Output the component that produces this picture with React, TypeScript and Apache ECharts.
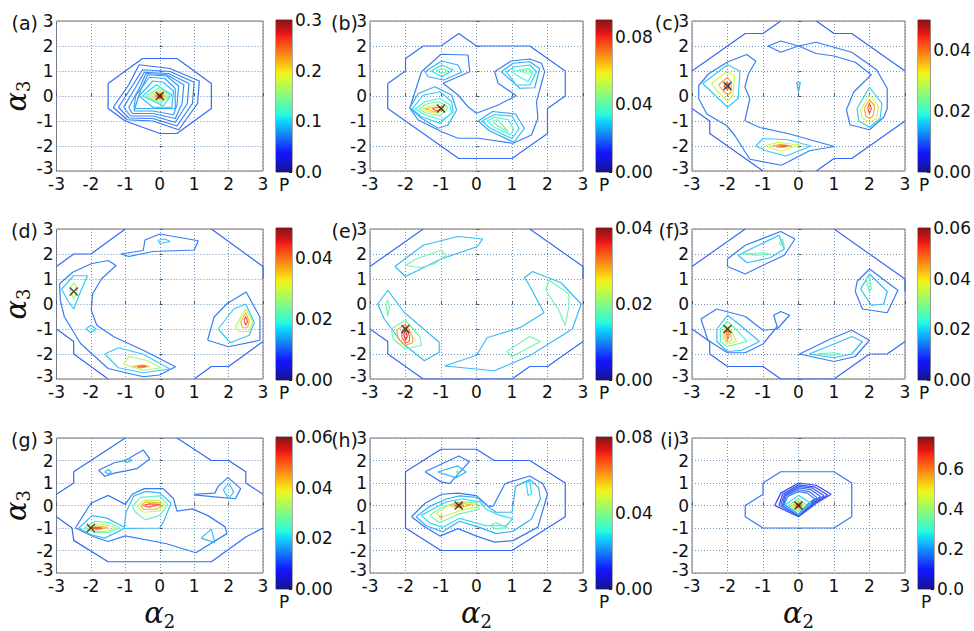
import React, { useEffect, useRef } from "react";
import * as echarts from "echarts";

// ---------------- data ----------------
const panelLabels = ["(a)", "(b)", "(c)", "(d)", "(e)", "(f)", "(g)", "(h)", "(i)"];
const cbMax = [0.3, 0.09, 0.05, 0.05, 0.04, 0.06, 0.06, 0.08, 0.76];
const cbStep = [0.1, 0.04, 0.02, 0.02, 0.02, 0.02, 0.02, 0.04, 0.2];
const cbDigits = [1, 2, 2, 2, 2, 2, 2, 2, 1];
const markX = [0, -1, -2, -2.5, -2, -2, -2, -0.5, 0];
const markY = [0, -0.5, 0.4, 0.5, -1, -1, -1, 0, 0];

// each entry: [contour level P, polyline points [alpha2, alpha3]]
const contoursA = [
  [0.058, [[-1.5, 0.5], [-0.5, 1.5], [0.5, 1.5], [1.5, 0.5], [1.5, -0.5], [0.5, -1.5], [0, -1.5], [-1, -1], [-1.5, -0.5], [-1.5, 0.5]]],
  [0.062, [[-1.35, -0.45], [-0.9, 0.45], [-0.6, 1.25], [0.3, 1.1], [1.15, 0.6], [1.1, -0.3], [0.55, -1.35], [-0.2, -1.0], [-0.95, -0.95], [-1.35, -0.45]]],
  [0.066, [[-1.2, -0.45], [-0.8, 0.4], [-0.5, 1.05], [0.3, 0.98], [1.0, 0.55], [0.95, -0.3], [0.5, -1.2], [-0.2, -0.9], [-0.9, -0.88], [-1.2, -0.45]]],
  [0.07, [[-1.05, -0.45], [-0.7, 0.35], [-0.45, 0.95], [0.25, 0.9], [0.85, 0.5], [0.8, -0.3], [0.45, -1.05], [-0.2, -0.8], [-0.85, -0.8], [-1.05, -0.45]]],
  [0.074, [[-0.9, -0.45], [-0.6, 0.3], [-0.4, 0.9], [0.2, 0.85], [0.7, 0.45], [0.65, -0.3], [0.45, -0.9], [-0.2, -0.7], [-0.8, -0.7], [-0.9, -0.45]]],
  [0.078, [[-0.75, -0.6], [-0.55, 0.25], [-0.35, 0.85], [0.2, 0.8], [0.55, 0.4], [0.5, -0.35], [0.4, -0.75], [-0.2, -0.6], [-0.75, -0.6]]],
  [0.082, [[-0.75, -0.5], [-0.7, 0], [-0.3, 0.75], [0.15, 0.7], [0.45, 0.3], [0.45, -0.5], [-0.75, -0.5]]],
  [0.09, [[-0.6, 0], [-0.2, 0.6], [0.1, 0.55], [0.4, 0.2], [0.35, -0.45], [-0.2, -0.45], [-0.6, 0]]],
  [0.1, [[-0.5, 0], [-0.1, 0.45], [0.35, 0.05], [0.1, -0.4], [-0.5, 0]]],
  [0.13, [[-0.4, 0], [0, 0.35], [0.3, 0], [0, -0.3], [-0.4, 0]]],
  [0.17, [[-0.3, 0], [0, 0.25], [0.22, 0], [0, -0.22], [-0.3, 0]]],
  [0.21, [[-0.2, 0], [0, 0.17], [0.15, 0], [0, -0.15], [-0.2, 0]]],
  [0.25, [[-0.12, 0], [0, 0.1], [0.1, 0], [0, -0.1], [-0.12, 0]]],
  [0.28, [[-0.06, 0], [0, 0.05], [0.05, 0], [0, -0.05], [-0.06, 0]]],
];

const contoursB = [
  [0.018, [[-2.5, 0.5], [-2.5, -0.5], [-1.5, -1.5], [-0.5, -2.5], [1, -2.5], [2, -1.5], [2, -0.5], [2.5, 0], [2.5, 1], [2, 1.5], [1.5, 2], [0, 2], [-0.5, 2.5], [-1, 2], [-1.5, 2], [-2, 1.5], [-2, 1], [-2.5, 0.5]]],
  [0.02, [[-1.88, -0.49], [-1.64, -0.96], [-0.98, -1.43], [-0.52, -1.69], [0.05, -1.69], [1.03, -1.89], [1.55, -1.56], [1.73, -0.89], [1.69, -0.23], [1.92, 0.97], [1.83, 1.31], [1.5, 1.48], [0.98, 1.4], [0.51, 0.97], [0.61, 0.51], [1.12, 0.01], [0.61, -0.36], [0, -0.69], [-0.24, -0.43], [-0.52, 0.04], [-0.94, 0.51], [-0.19, 0.97], [-0.24, 1.64], [-1.0, 1.67], [-1.55, 0.97], [-1.88, -0.49]]],
  [0.026, [[-1.45, 0.97], [-0.98, 1.4], [-0.52, 1.24], [-0.42, 0.95], [-0.93, 0.64], [-1.36, 0.77], [-1.45, 0.97]]],
  [0.03, [[-1.27, 1], [-0.98, 1.24], [-0.66, 1.04], [-0.98, 0.77], [-1.27, 1]]],
  [0.04, [[-1.13, 1], [-0.98, 1.1], [-0.8, 1], [-0.98, 0.9], [-1.13, 1]]],
  [0.025, [[-1.88, -0.47], [-1.64, 0.1], [-1.17, 0.37], [-0.7, 0.04], [-0.56, -0.56], [-0.8, -1.16], [-1.08, -1.29], [-1.55, -0.89], [-1.88, -0.47]]],
  [0.029, [[-1.81, -0.52], [-1.5, 0.03], [-1.03, 0.17], [-0.7, -0.23], [-0.66, -0.63], [-1.03, -1.09], [-1.55, -0.83], [-1.81, -0.52]]],
  [0.034, [[-1.73, -0.52], [-1.45, -0.23], [-1.03, -0.1], [-0.75, -0.36], [-0.7, -0.69], [-0.98, -0.96], [-1.45, -0.76], [-1.73, -0.52]]],
  [0.042, [[-1.64, -0.52], [-1.36, -0.29], [-1.03, -0.23], [-0.8, -0.47], [-1.03, -0.79], [-1.4, -0.69], [-1.64, -0.52]]],
  [0.055, [[-1.55, -0.52], [-1.17, -0.36], [-0.89, -0.47], [-1.08, -0.69], [-1.36, -0.63], [-1.55, -0.52]]],
  [0.065, [[-1.45, -0.52], [-1.08, -0.43], [-0.94, -0.52], [-1.17, -0.63], [-1.45, -0.52]]],
  [0.075, [[-1.25, -0.5], [-1.0, -0.45], [-0.95, -0.55], [-1.15, -0.58], [-1.25, -0.5]]],
  [0.025, [[0.05, -1.0], [0.45, -0.62], [1.1, -0.72], [1.35, -1.3], [1.05, -1.85], [0.35, -1.38], [0.05, -1.0]]],
  [0.029, [[0.15, -1.0], [0.5, -0.75], [1.0, -0.8], [1.2, -1.3], [1.0, -1.7], [0.4, -1.3], [0.15, -1.0]]],
  [0.034, [[0.3, -1.0], [0.5, -0.85], [0.9, -0.95], [1.05, -1.35], [0.95, -1.55], [0.5, -1.25], [0.3, -1.0]]],
  [0.042, [[0.45, -1.0], [0.6, -0.95], [0.9, -1.45], [0.55, -1.15], [0.45, -1.0]]],
  [0.025, [[0.7, 0.97], [1.03, 1.31], [1.5, 1.37], [1.78, 1.1], [1.64, 0.33], [1.22, 0.31], [0.7, 0.97]]],
  [0.029, [[0.84, 0.97], [1.08, 1.17], [1.5, 1.24], [1.69, 0.97], [1.5, 0.44], [1.12, 0.44], [0.84, 0.97]]],
  [0.034, [[0.98, 0.97], [1.45, 1.1], [1.59, 0.97], [1.45, 0.57], [0.98, 0.97]]],
  [0.042, [[1.2, 1.0], [1.5, 1.05], [1.55, 0.95], [1.45, 0.9], [1.2, 1.0]]],
];

const contoursC = [
  [0.0095, [[-3, 1], [-2, 2], [-1.5, 2.5], [-1, 2.5], [-0.5, 3]]],
  [0.0095, [[0.5, 3], [1, 2.5], [1.5, 2.5], [3, 1]]],
  [0.0095, [[3, -1], [2, -2], [1.5, -2.5], [1, -2.5], [0.5, -3]]],
  [0.0095, [[-3, -0.5], [-2.5, -1], [-2.5, -1.5], [-1, -3]]],
  [0.011, [[-2.81, 0.42], [-2.53, 0.89], [-2.0, 1.36], [-1.46, 1.66], [-1.2, 1.39], [-1.41, 0.89], [-1.51, 0.36], [-1.37, -0.11], [-1.51, -0.99], [-1.09, -1.26], [-0.25, -1.52], [1.01, -2.02], [0.31, -2.19], [-0.48, -2.77], [-1.37, -2.53], [-1.79, -1.59], [-2.02, -1.19], [-2.58, -0.72], [-2.81, -0.11], [-2.81, 0.42]]],
  [0.011, [[-0.86, 2], [-0.5, 2.2], [0, 2], [0.5, 2.15], [1.5, 1.75], [2.2, 1.05], [2.5, 0.3], [2.5, -0.5], [2.4, -0.85], [2.0, -1.35], [1.45, -1.15], [1.35, -0.55], [1.55, 0.15], [2.05, 0.85], [1.6, 1.35], [1.0, 1.6], [0.5, 1.7], [0, 2], [-0.5, 1.75], [-0.86, 2]]],
  [0.014, [[-0.05, 0.55], [0.05, 0.55], [0, 0.15], [-0.05, 0.55]]],
  [0.016, [[-2.7, 0.5], [-2.0, 1.25], [-1.65, 1.0], [-1.7, -0.1], [-2.0, -0.45], [-2.4, 0.1], [-2.7, 0.5]]],
  [0.03, [[-2.45, 0.5], [-2.0, 1.0], [-1.8, 0.8], [-1.85, 0.0], [-2.0, -0.2], [-2.3, 0.2], [-2.45, 0.5]]],
  [0.037, [[-2.25, 0.45], [-2.0, 0.75], [-1.9, 0.55], [-1.9, 0.15], [-2.0, 0.05], [-2.15, 0.25], [-2.25, 0.45]]],
  [0.043, [[-2.1, 0.4], [-2.0, 0.55], [-1.95, 0.4], [-2.0, 0.25], [-2.1, 0.4]]],
  [0.016, [[-1.2, -2.0], [-1.0, -1.7], [-0.3, -1.75], [0.35, -2.0], [-0.35, -2.4], [-0.9, -2.2], [-1.2, -2.0]]],
  [0.03, [[-0.95, -2.0], [-0.6, -1.85], [0.05, -1.97], [-0.5, -2.2], [-0.95, -2.0]]],
  [0.037, [[-0.75, -2.0], [-0.5, -1.93], [-0.2, -2.0], [-0.5, -2.07], [-0.75, -2.0]]],
  [0.043, [[-0.6, -2.0], [-0.4, -1.98], [-0.3, -2.0], [-0.45, -2.02], [-0.6, -2.0]]],
  [0.016, [[1.65, -0.5], [2.0, 0.35], [2.35, -0.3], [2.3, -0.9], [2.0, -1.25], [1.7, -1.0], [1.65, -0.5]]],
  [0.03, [[1.75, -0.55], [2.0, 0.05], [2.25, -0.4], [2.2, -0.9], [2.0, -1.05], [1.8, -0.9], [1.75, -0.55]]],
  [0.037, [[1.85, -0.5], [2.0, -0.15], [2.15, -0.4], [2.1, -0.8], [2.0, -0.9], [1.9, -0.8], [1.85, -0.5]]],
  [0.043, [[1.95, -0.5], [2.0, -0.3], [2.05, -0.5], [2.0, -0.7], [1.95, -0.5]]],
];

const contoursD = [
  [0.0095, [[-3, 1.5], [-2.5, 2], [-2, 2], [-1, 3]]],
  [0.0095, [[1.5, 3], [3, 1.5], [3, 1]]],
  [0.0095, [[3, -1.5], [2.5, -2], [2, -2.5], [1.5, -2.5], [1, -3]]],
  [0.0095, [[-3, -1], [-2.5, -1.5], [-2.5, -2], [-1.5, -3]]],
  [0.011, [[-2.91, 0.81], [-2.53, 1.27], [-1.99, 1.61], [-1.5, 1.74], [-1.27, 1.54], [-1.69, 1.01], [-1.95, 0.41], [-1.99, -0.25], [-1.83, -0.85], [-1.32, -1.32], [-0.48, -1.85], [0.46, -2.51], [-0.01, -2.84], [-0.48, -2.91], [-1.5, -2.58], [-2.3, -1.58], [-2.77, -0.52], [-2.89, 0.14], [-2.91, 0.81]]],
  [0.011, [[-1.13, 2.0], [-0.48, 2.14], [-0.43, 2.56], [0, 2.8], [1.12, 2.53], [1.0, 2.16], [-0.2, 2.1], [-0.9, 1.9], [-1.13, 2.0]]],
  [0.011, [[1.39, -1.45], [1.58, -0.52], [1.95, 0.01], [2.51, 0.48], [2.91, -0.52], [2.91, -1.45], [2.0, -1.71], [1.39, -1.45]]],
  [0.016, [[-0.05, 2.55], [0.15, 2.6], [0.3, 2.5], [0, 2.42], [-0.05, 2.55]]],
  [0.016, [[1.7, -1.0], [2.15, -0.2], [2.5, 0.0], [2.75, -0.75], [2.6, -1.25], [2.05, -1.55], [1.7, -1.0]]],
  [0.028, [[2.2, -0.9], [2.5, -0.2], [2.7, -0.7], [2.6, -1.1], [2.3, -1.1], [2.2, -0.9]]],
  [0.036, [[2.35, -0.7], [2.5, -0.35], [2.6, -0.7], [2.55, -0.95], [2.4, -0.95], [2.35, -0.7]]],
  [0.043, [[2.45, -0.65], [2.5, -0.5], [2.55, -0.7], [2.5, -0.85], [2.45, -0.65]]],
  [0.016, [[-2.85, 0.6], [-2.5, 1.13], [-2.1, 1.13], [-2.3, 0.5], [-2.5, -0.2], [-2.7, 0.2], [-2.85, 0.6]]],
  [0.028, [[-2.62, 0.6], [-2.5, 0.85], [-2.38, 0.6], [-2.5, 0.2], [-2.62, 0.6]]],
  [0.016, [[-2.15, -1], [-2, -0.85], [-1.85, -1], [-2, -1.15], [-2.15, -1]]],
  [0.016, [[-1.6, -2.0], [-1.2, -1.75], [-0.5, -2.0], [0.3, -2.6], [-0.5, -2.75], [-1.2, -2.55], [-1.6, -2.0]]],
  [0.028, [[-1.05, -2.4], [-0.9, -2.1], [-0.4, -2.25], [0.05, -2.55], [-0.5, -2.65], [-1.05, -2.4]]],
  [0.036, [[-0.8, -2.5], [-0.5, -2.43], [-0.3, -2.5], [-0.55, -2.56], [-0.8, -2.5]]],
  [0.043, [[-0.65, -2.5], [-0.5, -2.47], [-0.4, -2.5], [-0.55, -2.53], [-0.65, -2.5]]],
];

const contoursE = [
  [0.0078, [[-3, 1.5], [-1.5, 3]]],
  [0.0078, [[1.5, 3], [3, 1.5], [3, 1.0]]],
  [0.0078, [[-3, -1], [-2.5, -1.5], [-2.5, -2], [-1.5, -3], [1, -3], [1.5, -2.5], [2, -2.5], [3, -1.5]]],
  [0.012, [[-2.3, 1.5], [-1.5, 2.35], [-0.53, 2.7], [0.17, 2.6], [0.03, 2.3], [-1.0, 1.8], [-2.0, 1.1], [-2.3, 1.5]]],
  [0.012, [[-2.78, 0], [-2.5, 0.55], [-2.04, -0.33], [-1.05, -1.53], [-1.05, -1.93], [-1.47, -2.27], [-2.1, -1.55], [-2.6, -0.6], [-2.78, 0]]],
  [0.012, [[-0.9, -2.48], [0, -2.05], [0.3, -1.35], [1.25, -0.93], [1.9, -0.35], [1.45, 0.85], [1.35, 1.05], [1.58, 1.3], [2.38, 0.85], [2.95, 0.0], [2.7, -1.0], [1.5, -2.07], [0.5, -2.67], [-0.9, -2.48]]],
  [0.018, [[-2.0, 1.55], [-1.7, 1.8], [-1.0, 2.15], [-0.85, 1.95], [-1.2, 1.6], [-1.6, 1.45], [-2.0, 1.55]]],
  [0.018, [[-2.55, 0.05], [-2.5, 0.15], [-2.45, -0.1], [-2.5, -0.5], [-2.55, 0.05]]],
  [0.018, [[1.95, 0.55], [2.05, 0.95], [2.6, 0.4], [2.6, -0.1], [2.5, -0.85], [2.3, -0.2], [1.95, 0.55]]],
  [0.018, [[0.85, -1.9], [1.5, -1.3], [1.8, -1.5], [1.0, -2.1], [0.85, -1.9]]],
  [0.018, [[-2.4, -1.0], [-2.0, -0.65], [-1.6, -1.3], [-1.55, -1.65], [-2.0, -1.8], [-2.35, -1.4], [-2.4, -1.0]]],
  [0.03, [[-2.25, -1.05], [-2.0, -0.8], [-1.8, -1.3], [-1.8, -1.55], [-2.0, -1.65], [-2.2, -1.4], [-2.25, -1.05]]],
  [0.034, [[-2.1, -1.1], [-2.0, -0.9], [-1.88, -1.3], [-1.9, -1.5], [-2.0, -1.55], [-2.1, -1.35], [-2.1, -1.1]]],
  [0.037, [[-2.05, -1.2], [-2.0, -1.05], [-1.95, -1.3], [-2.0, -1.45], [-2.05, -1.2]]],
];

const contoursF = [
  [0.0115, [[-3, 1.5], [-1.5, 3]]],
  [0.0115, [[1, 3], [3, 1], [3, 0.5]]],
  [0.0115, [[-3, -1], [-2.5, -1.5], [-2.5, -2], [-2, -2.5], [-1, -2.5], [-0.5, -3], [1, -3], [2, -2], [2.5, -2], [3, -1.5]]],
  [0.013, [[-2.0, 1.5], [-2.0, 1.8], [-1.5, 2.35], [-0.5, 2.9], [-0.1, 2.6], [-0.4, 1.95], [-1.0, 1.55], [-1.5, 1.2], [-2.0, 1.5]]],
  [0.013, [[1.6, 0.5], [1.65, 0.9], [2.0, 1.4], [2.8, 0.55], [2.5, -0.35], [1.8, -0.2], [1.6, 0.5]]],
  [0.013, [[0.03, -2.0], [0.9, -1.4], [1.5, -1.05], [2.0, -1.45], [1.6, -2.1], [1.0, -2.3], [0.03, -2.0]]],
  [0.013, [[-2.75, -0.6], [-2.3, -0.2], [-1.5, -0.5], [-1.0, -1.05], [-0.6, -1.0], [-0.35, -0.6], [-0.25, -0.45], [-0.5, -0.3], [-0.7, -0.45], [-0.6, -0.9], [-1.0, -1.6], [-1.5, -1.95], [-2.0, -1.95], [-2.55, -1.45], [-2.75, -0.6]]],
  [0.018, [[-1.7, 1.95], [-1.2, 2.3], [-0.55, 2.75], [-0.4, 2.2], [-0.8, 1.85], [-1.45, 1.65], [-1.7, 1.95]]],
  [0.018, [[1.75, 0.6], [2.0, 1.2], [2.5, 0.5], [2.4, 0.0], [2.05, -0.05], [1.75, 0.6]]],
  [0.018, [[0.3, -2.0], [1.0, -1.6], [1.5, -1.3], [1.8, -1.5], [1.5, -2.0], [1.0, -2.15], [0.3, -2.0]]],
  [0.018, [[-2.3, -1.0], [-2.0, -0.45], [-1.6, -0.9], [-1.1, -1.5], [-1.6, -1.85], [-2.0, -1.9], [-2.3, -1.5], [-2.3, -1.0]]],
  [0.026, [[-1.6, 2.0], [-1.0, 2.05], [-0.8, 2.0], [-1.2, 1.95], [-1.6, 2.0]]],
  [0.026, [[-0.55, 2.4], [-0.45, 2.6], [-0.4, 2.3], [-0.55, 2.4]]],
  [0.026, [[1.9, 1.0], [2.0, 1.1], [2.05, 0.6], [2.0, 0.5], [1.9, 1.0]]],
  [0.026, [[0.5, -2.0], [1.0, -1.95], [1.2, -2.0], [0.9, -2.05], [0.5, -2.0]]],
  [0.026, [[-2.2, -1.0], [-2.0, -0.7], [-1.7, -1.1], [-1.45, -1.5], [-2.0, -1.7], [-2.2, -1.5], [-2.2, -1.0]]],
  [0.035, [[-2.1, -1.0], [-2.0, -0.85], [-1.85, -1.2], [-1.75, -1.5], [-2.0, -1.6], [-2.12, -1.4], [-2.1, -1.0]]],
  [0.042, [[-2.07, -1.05], [-2.0, -0.92], [-1.9, -1.25], [-1.88, -1.45], [-2.0, -1.52], [-2.07, -1.35], [-2.07, -1.05]]],
  [0.05, [[-2.03, -1.1], [-2.0, -1.0], [-1.95, -1.3], [-2.0, -1.42], [-2.03, -1.1]]],
];

const contoursG = [
  [0.0115, [[-3, 0.5], [-2.5, 1], [-2.5, 1.5], [-2, 2], [-1, 3]]],
  [0.0115, [[0.5, 3], [1.5, 2], [2, 2], [2.5, 1.5], [2.5, 1], [3, 0.5]]],
  [0.0115, [[3, -1], [2.5, -1.4], [1.5, -2.5], [-1.5, -2.5], [-2.5, -1.55], [-2.55, -1.0], [-3, -0.5]]],
  [0.013, [[-2.45, -1.0], [-2.0, 0.1], [-1.5, 0.45], [-1.0, 0.05], [-0.8, 0.5], [-0.45, 0.75], [0.1, 0.75], [0.4, 0.3], [0.5, -0.25], [0.95, -0.15], [1.4, -0.45], [1.9, -0.95], [1.95, -1.25], [1.05, -2.1], [0.2, -1.7], [-1.0, -1.35], [-1.5, -1.6], [-1.9, -1.4], [-2.45, -1.0]]],
  [0.013, [[-1.78, 1.57], [-1.32, 1.9], [-1.0, 2.0], [-0.48, 2.47], [-0.29, 2.07], [-0.66, 1.64], [-1.32, 1.44], [-1.6, 1.3], [-1.78, 1.57]]],
  [0.013, [[1.0, 0.5], [1.6, 0.55], [1.7, 0.85], [1.98, 1.25], [2.35, 0.75], [2.2, 0.3], [1.6, 0.38], [1.0, 0.47], [1.0, 0.5]]],
  [0.018, [[-2.35, -1], [-1.97, -0.45], [-1.55, -0.55], [-1.03, -0.97], [-0.98, -0.3], [-0.75, 0.43], [-0.4, 0.63], [0, 0.56], [0.33, 0.1], [0.1, -0.75], [0, -1], [-1.03, -1.02], [-1.6, -1.45], [-2.0, -1.3], [-2.35, -1]]],
  [0.018, [[-1.6, 1.5], [-1.49, 1.6], [-1.41, 1.47], [-1.5, 1.4], [-1.6, 1.5]]],
  [0.018, [[-1.08, 2.0], [-0.9, 2.08], [-0.8, 2.01], [-0.94, 1.93], [-1.08, 2.0]]],
  [0.018, [[1.85, 0.7], [2.0, 1.0], [2.15, 0.6], [2.0, 0.3], [1.85, 0.7]]],
  [0.018, [[1.2, -1.45], [1.5, -1.05], [1.6, -1.65], [1.2, -1.45]]],
  [0.026, [[-2.2, -1], [-1.87, -0.7], [-1.45, -0.77], [-1.17, -1], [-1.5, -1.2], [-1.9, -1.2], [-2.2, -1]]],
  [0.026, [[-0.8, -0.04], [-0.56, 0.36], [0, 0.43], [0.23, 0.03], [0, -0.44], [-0.42, -0.64], [-0.7, -0.3], [-0.8, -0.04]]],
  [0.035, [[-2.1, -1], [-1.83, -0.8], [-1.45, -0.9], [-1.26, -1.02], [-1.6, -1.15], [-1.95, -1.15], [-2.1, -1]]],
  [0.035, [[-0.66, -0.04], [-0.47, 0.23], [0, 0.23], [0.14, 0.03], [0, -0.24], [-0.47, -0.3], [-0.66, -0.04]]],
  [0.043, [[-2.05, -1], [-1.8, -0.9], [-1.5, -0.97], [-1.8, -1.08], [-2.05, -1]]],
  [0.043, [[-0.56, -0.01], [-0.42, 0.16], [0, 0.13], [0.05, -0.01], [-0.1, -0.17], [-0.47, -0.17], [-0.56, -0.01]]],
  [0.052, [[-2.0, -1], [-1.8, -0.97], [-1.65, -1], [-1.8, -1.03], [-2.0, -1]]],
  [0.052, [[-0.5, 0], [-0.3, 0.07], [0, 0.05], [-0.3, -0.07], [-0.5, 0]]],
];

const contoursH = [
  [0.015, [[-2, -1], [-2, 1.5], [-1, 2.5], [0, 2.5], [0.5, 2], [1.5, 2], [2.5, 1], [2.5, -0.5], [1, -2], [-1, -2], [-2, -1]]],
  [0.017, [[-1.83, -0.5], [-1.45, 0.1], [-0.98, 0.5], [-0.52, 0.55], [0, 0.44], [0.33, -0.03], [0.47, -0.03], [0.8, 0.97], [1.5, 1.31], [1.87, 0.97], [2.0, 0.5], [1.73, -0.96], [1.03, -1.56], [0.51, -1.63], [0, -1.36], [-0.52, -1.03], [-1.03, -1.36], [-1.45, -0.96], [-1.83, -0.5]]],
  [0.017, [[-1.45, 1.5], [-0.5, 2.2], [-0.2, 1.95], [-0.76, 0.97], [-1.0, 1.05], [-1.45, 1.5]]],
  [0.023, [[-1.7, -0.5], [-1.32, -0.04], [-0.85, 0.29], [-0.48, 0.43], [0, 0.36], [0.32, -0.04], [0.55, -0.3], [1.0, -0.3], [1.1, 0.85], [1.5, 1.15], [1.75, 0.8], [1.8, 0.3], [1.55, -0.6], [1.02, -1.15], [0.55, -1.25], [0.08, -0.97], [-0.48, -0.7], [-0.95, -1.17], [-1.42, -0.9], [-1.7, -0.5]]],
  [0.023, [[-1.09, 1.49], [-0.53, 1.76], [-0.29, 1.49], [-0.57, 1.23], [-1.09, 1.49]]],
  [0.027, [[-1.56, -0.44], [-0.85, 0.16], [-0.38, 0.29], [0.1, 0.16], [0.27, -0.17], [0.65, -0.44], [1.02, -0.57], [0.84, -0.9], [0.27, -0.9], [-0.48, -0.57], [-0.95, -0.97], [-1.32, -0.77], [-1.56, -0.44]]],
  [0.027, [[1.4, 1.0], [1.5, 1.1], [1.55, 0.5], [1.45, 0.45], [1.4, 1.0]]],
  [0.035, [[-1.32, -0.44], [-1.0, -0.1], [-0.48, 0.16], [0, 0.12], [0.08, -0.17], [-0.48, -0.37], [-1.04, -0.77], [-1.32, -0.44]]],
  [0.035, [[0.37, -0.9], [0.55, -0.77], [0.88, -0.97], [0.55, -1.04], [0.37, -0.9]]],
  [0.035, [[-0.58, 1.49], [-0.53, 1.53], [-0.48, 1.49], [-0.53, 1.45], [-0.58, 1.49]]],
  [0.048, [[-1.14, -0.37], [-0.76, 0.03], [-0.29, 0.16], [0.05, -0.04], [-0.48, -0.24], [-0.95, -0.5], [-1.14, -0.37]]],
  [0.058, [[-0.76, 0], [-0.48, 0.12], [-0.15, 0.03], [-0.48, -0.11], [-0.76, 0]]],
  [0.058, [[-1.05, -0.5], [-1, -0.45], [-0.95, -0.5], [-1, -0.55], [-1.05, -0.5]]],
  [0.066, [[-0.62, 0], [-0.5, 0.06], [-0.35, 0.0], [-0.5, -0.05], [-0.62, 0]]],
];

const contoursI = [
  [0.16, [[-1, 1], [-0.5, 1.5], [1, 1.5], [1.5, 1], [1.5, -0.5], [1, -1], [-1, -1], [-1.5, -0.5], [-1.5, 0], [-1, 0.5], [-1, 1]]],
  [0.11, [[-0.67, 0], [-0.5, 0.55], [0, 1], [0.5, 0.9], [0.92, 0.5], [0.5, 0.1], [0, -0.5], [-0.67, 0]]],
  [0.12, [[-0.55, 0], [-0.45, 0.5], [0, 0.92], [0.45, 0.83], [0.82, 0.47], [0.45, 0.1], [0, -0.45], [-0.55, 0]]],
  [0.13, [[-0.5, 0.05], [-0.4, 0.48], [0, 0.85], [0.4, 0.77], [0.72, 0.43], [0.4, 0.1], [0, -0.42], [-0.5, 0.05]]],
  [0.14, [[-0.45, 0.05], [-0.38, 0.45], [0, 0.78], [0.35, 0.7], [0.62, 0.4], [0.35, 0.08], [0, -0.4], [-0.45, 0.05]]],
  [0.15, [[-0.42, 0.05], [-0.35, 0.42], [0, 0.7], [0.3, 0.62], [0.52, 0.35], [0.3, 0.06], [0, -0.4], [-0.42, 0.05]]],
  [0.165, [[-0.4, 0.05], [-0.3, 0.4], [0, 0.62], [0.25, 0.55], [0.45, 0.3], [0.25, 0.05], [0, -0.4], [-0.4, 0.05]]],
  [0.25, [[-0.4, 0], [0, 0.45], [0.35, 0.1], [0, -0.4], [-0.4, 0]]],
  [0.35, [[-0.28, 0], [0, 0.3], [0.22, 0.03], [0, -0.28], [-0.28, 0]]],
  [0.45, [[-0.2, 0], [0, 0.22], [0.16, 0.02], [0, -0.2], [-0.2, 0]]],
  [0.55, [[-0.14, 0], [0, 0.15], [0.11, 0.01], [0, -0.14], [-0.14, 0]]],
  [0.65, [[-0.08, 0], [0, 0.09], [0.07, 0], [0, -0.08], [-0.08, 0]]],
];

const panelContours = [contoursA, contoursB, contoursC, contoursD, contoursE, contoursF, contoursG, contoursH, contoursI];

// ---------------- layout / style ----------------
const colLeft = [50, 370, 692];
const rowTop = [21, 229, 438];
const plotW = 213;
const plotH = 150;
const cbLeft = [276, 596, 918];
const cbW = 16;
const FONT = "DejaVu Sans";

const JR = [[0, 0], [0.35, 0], [0.66, 1], [0.89, 1], [1, 0.5]];
const JG = [[0, 0], [0.125, 0], [0.375, 1], [0.64, 1], [0.91, 0], [1, 0]];
const JB = [[0, 0.5], [0.11, 1], [0.34, 1], [0.65, 0], [1, 0]];
function seg(p: number[][], t: number) {
  for (let i = 0; i < p.length - 1; i++) {
    const [x0, y0] = p[i];
    const [x1, y1] = p[i + 1];
    if (t <= x1) return y0 + ((y1 - y0) * (t - x0)) / (x1 - x0);
  }
  return p[p.length - 1][1];
}
function jet(t: number, mix = 0, grey = 255) {
  const tt = Math.max(0, Math.min(1, t));
  const c = [seg(JR, tt), seg(JG, tt), seg(JB, tt)].map((v) => Math.round(v * 255 * (1 - mix) + grey * mix));
  return `rgb(${c[0]},${c[1]},${c[2]})`;
}

const X_SYMBOL = "path://M0,1.2L1.2,0L5,3.8L8.8,0L10,1.2L6.2,5L10,8.8L8.8,10L5,6.2L1.2,10L0,8.8L3.8,5Z";

function buildOption() {
  const grids: any[] = [];
  const xAxes: any[] = [];
  const yAxes: any[] = [];
  const series: any[] = [];
  const graphics: any[] = [];
  const stops = [];
  for (let k = 0; k <= 40; k++) stops.push({ offset: k / 40, color: jet(k / 40, 0.1, 200) });

  const alphaRich = {
    a: { fontFamily: "DejaVu Serif", fontStyle: "italic", fontSize: 29, color: "#111" },
    s: { fontFamily: "DejaVu Serif", fontSize: 18, color: "#111", padding: [16, 0, 0, 0] },
  };

  for (let i = 0; i < 9; i++) {
    const col = i % 3;
    const row = Math.floor(i / 3);
    grids.push({
      left: colLeft[col], top: rowTop[row], width: plotW, height: plotH,
      show: true, borderColor: "#7a6e70", borderWidth: 1, backgroundColor: "#fff",
    });
    const axisCommon = {
      type: "value", min: -3, max: 3, interval: 1,
      axisLine: { show: false },
      axisTick: { show: true, inside: true, length: 3, lineStyle: { color: "#555" } },
      splitLine: { show: true, lineStyle: { type: [1, 2], color: "#6f95ba", width: 1 } },
      axisLabel: { fontFamily: FONT, fontSize: 17, color: "#111" },
    };
    const xa: any = { ...axisCommon, gridIndex: i, axisLabel: { ...axisCommon.axisLabel, margin: 4 } };
    if (row === 2) {
      xa.name = "{a|α}{s|2}";
      xa.nameLocation = "middle";
      xa.nameGap = 23;
      xa.nameTextStyle = { rich: alphaRich };
    }
    const ya: any = {
      ...axisCommon, gridIndex: i,
      axisLabel: {
        ...axisCommon.axisLabel, margin: 3,
        formatter: (v: number) => (v === -3 ? "{m|-3}" : String(v)),
        rich: { m: { fontFamily: FONT, fontSize: 17, color: "#111", padding: [0, 0, 6, 0] } },
      },
    };
    if (col === 0) {
      ya.name = "{a|α}{s|3}";
      ya.nameLocation = "middle";
      ya.nameGap = 24;
      ya.nameRotate = 90;
      ya.nameTextStyle = { rich: alphaRich };
    }
    xAxes.push(xa);
    yAxes.push(ya);

    panelContours[i].forEach((entry: any) => {
      const level = entry[0];
      const pts = entry[1];
      series.push({
        type: "line", xAxisIndex: i, yAxisIndex: i, data: pts,
        symbol: "none", showSymbol: false, silent: true, clip: true,
        lineStyle: { color: jet(level / cbMax[i], 0.25, 215), width: 1.2 },
        z: 3,
      });
    });
    series.push({
      type: "scatter", xAxisIndex: i, yAxisIndex: i,
      data: [[markX[i], markY[i]]], symbol: X_SYMBOL, symbolSize: 9,
      itemStyle: { color: "#222" }, silent: true, z: 10,
    });

    graphics.push({
      type: "text", x: colLeft[col] - 12, y: rowTop[row] + 2,
      style: { text: panelLabels[i], font: `19px "${FONT}"`, fill: "#111", align: "right", verticalAlign: "middle" },
    });
  }

  // colorbars
  for (let i = 0; i < 9; i++) {
    const col = i % 3;
    const row = Math.floor(i / 3);
    const gi = 9 + i;
    grids.push({
      left: cbLeft[col], top: rowTop[row] - 1, width: cbW, height: plotH + 2,
      show: true, borderColor: "#555", borderWidth: 1,
    });
    xAxes.push({
      type: "category", gridIndex: gi, data: ["P"],
      axisLine: { show: false }, axisTick: { show: false },
      axisLabel: { fontFamily: FONT, fontSize: 17, color: "#111", margin: 4 },
    });
    const step = cbStep[i];
    const dig = cbDigits[i];
    yAxes.push({
      type: "value", gridIndex: gi, position: "right", min: 0, max: cbMax[i], interval: step,
      axisLine: { show: false }, splitLine: { show: false },
      axisTick: { show: true, inside: true, length: 3, lineStyle: { color: "#222" } },
      axisLabel: {
        fontFamily: FONT, fontSize: 17, color: "#111", margin: 3,
        formatter: (v: number) => {
          const r = v / step;
          if (Math.abs(r - Math.round(r)) > 1e-6) return "";
          return v.toFixed(dig);
        },
      },
    });
    series.push({
      type: "bar", xAxisIndex: gi, yAxisIndex: gi, data: [cbMax[i]],
      barWidth: "100%", barCategoryGap: "0%", silent: true,
      itemStyle: { color: new echarts.graphic.LinearGradient(0, 1, 0, 0, stops) },
    });
  }

  return {
    animation: false,
    backgroundColor: "#ffffff",
    textStyle: { fontFamily: FONT },
    grid: grids,
    xAxis: xAxes,
    yAxis: yAxes,
    series,
    graphic: graphics,
  };
}

export default function App() {
  const ref = useRef<HTMLDivElement>(null);
  useEffect(() => {
    if (!ref.current) return;
    const chart = echarts.init(ref.current, undefined, { renderer: "svg" });
    chart.setOption(buildOption() as any);
    return () => chart.dispose();
  }, []);
  return (
    <div
      ref={ref}
      style={{ position: "fixed", left: 0, top: 0, width: 974, height: 631, background: "#fff" }}
    />
  );
}
